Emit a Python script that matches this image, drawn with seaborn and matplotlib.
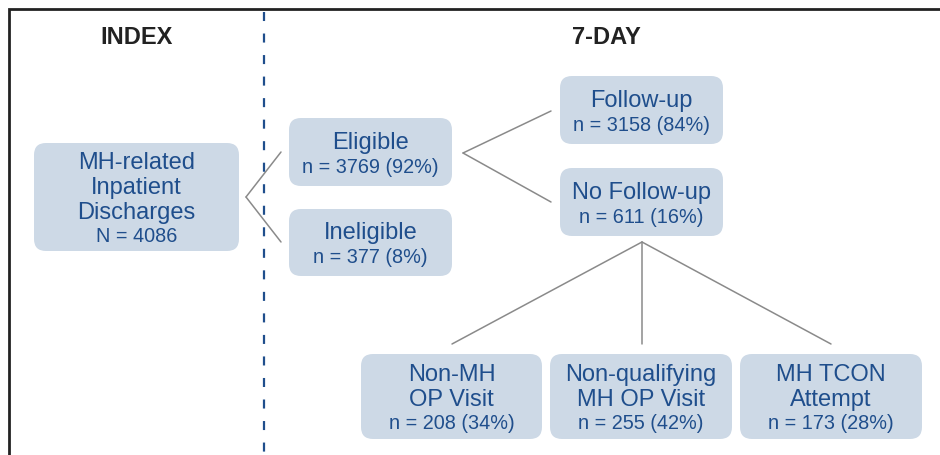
import matplotlib
matplotlib.use("Agg")
import matplotlib.pyplot as plt
from matplotlib.patches import FancyBboxPatch
import numpy as np
import pandas as pd
import seaborn as sns

# %%
# data
stage_titles = ["INDEX", "7-DAY"]
node_labels = ["MH-related\nInpatient\nDischarges", "Eligible", "Ineligible",
               "Follow-up", "No Follow-up",
               "Non-MH\nOP Visit", "Non-qualifying\nMH OP Visit", "MH TCON\nAttempt"]
node_counts = [4086, 3769, 377, 3158, 611, 208, 255, 173]
node_pcts = [None, 92, 8, 84, 16, 34, 42, 28]
# parent index of each node (-1 = root)
node_parent = [-1, 0, 0, 1, 1, 4, 4, 4]

# %%
# layout (pixel space, y down)
box_x0 = [34, 289, 289, 560, 560, 361, 550, 740]
box_x1 = [239, 452, 452, 723, 723, 542, 732, 922]
box_y0 = [144, 119, 210, 77, 169, 355, 355, 355]
box_y1 = [252, 187, 277, 145, 237, 440, 440, 440]
title_x = [137, 606]
title_y = 38

# connector segments: apex -> child end
seg_from = [(246, 198), (246, 198), (463, 154), (463, 154),
            (642, 243), (642, 243), (642, 243)]
seg_to = [(281, 153), (281, 243), (551, 112), (551, 203),
          (452, 345), (642, 345), (831, 345)]

box_fill = "#cdd9e6"
text_col = "#1f4e8c"
line_col = "#8a8a8a"

sns.set_theme(style="white")
plt.rcParams["font.family"] = ["Liberation Sans", "DejaVu Sans"]

fig = plt.figure(figsize=(9.4, 4.56), dpi=100)
ax = fig.add_axes([0, 0, 1, 1])

# connector lines via seaborn
rows = []
for i, (a, b) in enumerate(zip(seg_from, seg_to)):
    rows.append({"seg": i, "x": a[0], "y": a[1]})
    rows.append({"seg": i, "x": b[0], "y": b[1]})
seg_df = pd.DataFrame(rows)
sns.lineplot(data=seg_df, x="x", y="y", units="seg", estimator=None, sort=False,
             color=line_col, linewidth=1.1, ax=ax, legend=False)
ax.set_xlim(0, 940)
ax.set_ylim(456, 0)
ax.axis("off")

# frame: left and top edges only
ax.plot([8.5, 8.5, 940], [456, 9.5, 9.5], color="#222222", linewidth=2, solid_joinstyle="miter")

# dashed divider
lw = 1.6
ax.plot([264, 264], [13, 456], color=text_col, linewidth=lw,
        linestyle=(0, (6.5 / lw, 9 / lw)))

# stage titles
for t, x in zip(stage_titles, title_x):
    ax.text(x, title_y, t, ha="center", va="center", fontsize=17,
            fontweight="bold", color="#222222")

# boxes
for i, lab in enumerate(node_labels):
    x0, x1, y0, y1 = box_x0[i], box_x1[i], box_y0[i], box_y1[i]
    r = 12
    ax.add_patch(FancyBboxPatch((x0 + r, y0 + r), (x1 - x0) - 2 * r, (y1 - y0) - 2 * r,
                                boxstyle=f"round,pad={r},rounding_size={r}",
                                facecolor=box_fill, edgecolor="none", zorder=2))
    cx = (x0 + x1) / 2
    lines = lab.split("\n")
    if node_pcts[i] is None:
        stat = f"N = {node_counts[i]}"
    else:
        stat = f"n = {node_counts[i]} ({node_pcts[i]}%)"
    n_lines = len(lines) + 1
    step = 24.7 if n_lines > 2 else 25.5
    cy = (y0 + y1) / 2
    first = cy - step * (n_lines - 1) / 2 + 2.5
    for k, ln in enumerate(lines):
        ax.text(cx, first + k * step, ln, ha="center", va="center",
                fontsize=17, color=text_col, zorder=3)
    ax.text(cx, first + len(lines) * step - 1, stat, ha="center", va="center",
            fontsize=14.3, color=text_col, zorder=3)

fig.savefig("out.png", dpi=100)
